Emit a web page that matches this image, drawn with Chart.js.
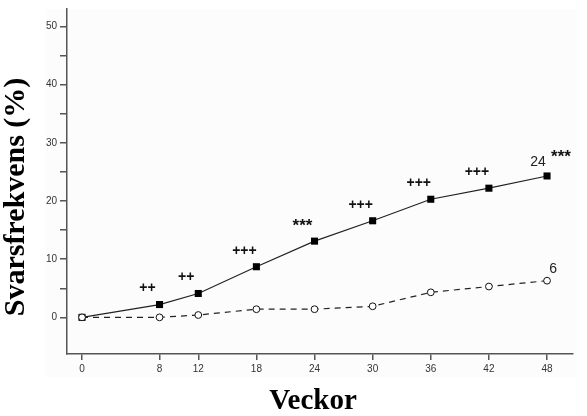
<!DOCTYPE html>
<html><head><meta charset="utf-8">
<script src="https://cdn.jsdelivr.net/npm/chart.js@4.4.0/dist/chart.umd.min.js"></script>
<style>html,body{margin:0;padding:0;background:#fff}canvas{display:block}</style>
</head><body>
<canvas id="c" width="587" height="416"></canvas>
<script>
// ---- data ----
const weeks = [0, 8, 12, 18, 24, 30, 36, 42, 48];
const activeValues = [0, 2.2, 4.1, 8.7, 13.1, 16.6, 20.3, 22.2, 24.3];
const placeboValues = [0, 0, 0.4, 1.4, 1.4, 1.9, 4.3, 5.3, 6.3];
const significance = ['', '++', '++', '+++', '***', '+++', '+++', '+++', '***'];
const activeEndLabel = '24';
const placeboEndLabel = '6';
const xTickValues = [0, 8, 12, 18, 24, 30, 36, 42, 48];
const yTickValues = [0, 5, 10, 15, 20, 25, 30, 35, 40, 45, 50];
const xTitle = 'Veckor';
const yTitle = 'Svarsfrekvens (%)';

const bgPlugin = {
  id: 'bg',
  beforeDraw(chart) {
    const {ctx, chartArea: a} = chart;
    ctx.save();
    ctx.fillStyle = '#fcfcfc';
    ctx.fillRect(a.left - 21, a.top, a.right - a.left + 24, a.bottom - a.top + 23);
    ctx.restore();
  }
};

const annotPlugin = {
  id: 'annot',
  afterDatasetsDraw(chart) {
    const {ctx, scales: {x, y}} = chart;
    ctx.save();
    ctx.fillStyle = '#111';
    ctx.textAlign = 'center';
    ctx.textBaseline = 'middle';
    const last = weeks.length - 1;
    significance.forEach((s, i) => {
      if (!s) return;
      const px = x.getPixelForValue(weeks[i]);
      const py = y.getPixelForValue(activeValues[i]);
      const star = s.indexOf('*') >= 0;
      ctx.font = star ? 'bold 17px "Liberation Sans", Arial, sans-serif' : 'bold 14px "Liberation Sans", Arial, sans-serif';
      if (i === last) {
        ctx.fillText(s, px + 14, py - 19);
      } else {
        ctx.fillText(s, px - 12, py - (star ? 15 : 16));
      }
    });
    ctx.font = '14px "Liberation Sans", Arial, sans-serif';
    ctx.fillStyle = '#222';
    ctx.fillText(activeEndLabel, x.getPixelForValue(weeks[last]) - 9, y.getPixelForValue(activeValues[last]) - 14);
    ctx.fillText(placeboEndLabel, x.getPixelForValue(weeks[last]) + 6, y.getPixelForValue(placeboValues[last]) - 12);
    ctx.restore();
  }
};

const titlePlugin = {
  id: 'titles',
  afterDraw(chart) {
    const {ctx} = chart;
    ctx.save();
    ctx.fillStyle = '#000';
    ctx.font = 'bold 29px "Liberation Serif", "Times New Roman", serif';
    ctx.textAlign = 'center';
    ctx.textBaseline = 'alphabetic';
    ctx.fillText(xTitle, 313, 409);
    ctx.translate(24, 197);
    ctx.rotate(-Math.PI / 2);
    ctx.font = 'bold 30px "Liberation Serif", "Times New Roman", serif';
    ctx.fillText(yTitle, 0, 0);
    ctx.restore();
  }
};

new Chart(document.getElementById('c'), {
  type: 'line',
  data: {
    datasets: [
      {
        label: 'placebo',
        data: weeks.map((w, i) => ({x: w, y: placeboValues[i]})),
        borderColor: '#222',
        borderWidth: 1.2,
        borderDash: [6, 5],
        pointStyle: 'circle',
        pointRadius: 3.4,
        pointBorderWidth: 1,
        pointBackgroundColor: '#fff',
        pointBorderColor: '#111',
        tension: 0,
        order: 1
      },
      {
        label: 'active',
        data: weeks.map((w, i) => ({x: w, y: activeValues[i]})),
        borderColor: '#222',
        borderWidth: 1.2,
        pointStyle: 'rect',
        pointRadius: 5,
        pointBorderWidth: 0,
        pointBackgroundColor: '#000',
        pointBorderColor: '#000',
        tension: 0,
        order: 2
      }
    ]
  },
  options: {
    responsive: false,
    animation: false,
    devicePixelRatio: 1,
    layout: {padding: {top: 6, right: 14, left: 0, bottom: 0}},
    plugins: {legend: {display: false}, tooltip: {enabled: false}},
    scales: {
      x: {
        type: 'linear',
        min: -1.55,
        max: 50.68,
        afterBuildTicks(s) { s.ticks = xTickValues.map(v => ({value: v})); },
        afterFit(s) { s.height = 62; },
        grid: {display: true, drawOnChartArea: false, drawTicks: true, tickLength: 6, color: '#555', lineWidth: 1.5},
        border: {display: true, color: '#555', width: 1.5},
        ticks: {color: '#333', font: {size: 10, family: '"Liberation Sans", Arial, sans-serif'}, padding: 3, maxRotation: 0, autoSkip: false}
      },
      y: {
        type: 'linear',
        min: -6.3,
        max: 53,
        afterBuildTicks(s) { s.ticks = yTickValues.map(v => ({value: v})); },
        afterFit(s) { s.width = 67; },
        grid: {display: true, drawOnChartArea: false, drawTicks: true, tickLength: 7, color: '#555', lineWidth: 1.5},
        border: {display: true, color: '#555', width: 1.5},
        ticks: {
          color: '#333',
          font: {size: 10, family: '"Liberation Sans", Arial, sans-serif'},
          padding: 3,
          autoSkip: false,
          callback: v => (v % 10 === 0 ? String(v) : '')
        }
      }
    }
  },
  plugins: [bgPlugin, annotPlugin, titlePlugin]
});
</script>
</body></html>
